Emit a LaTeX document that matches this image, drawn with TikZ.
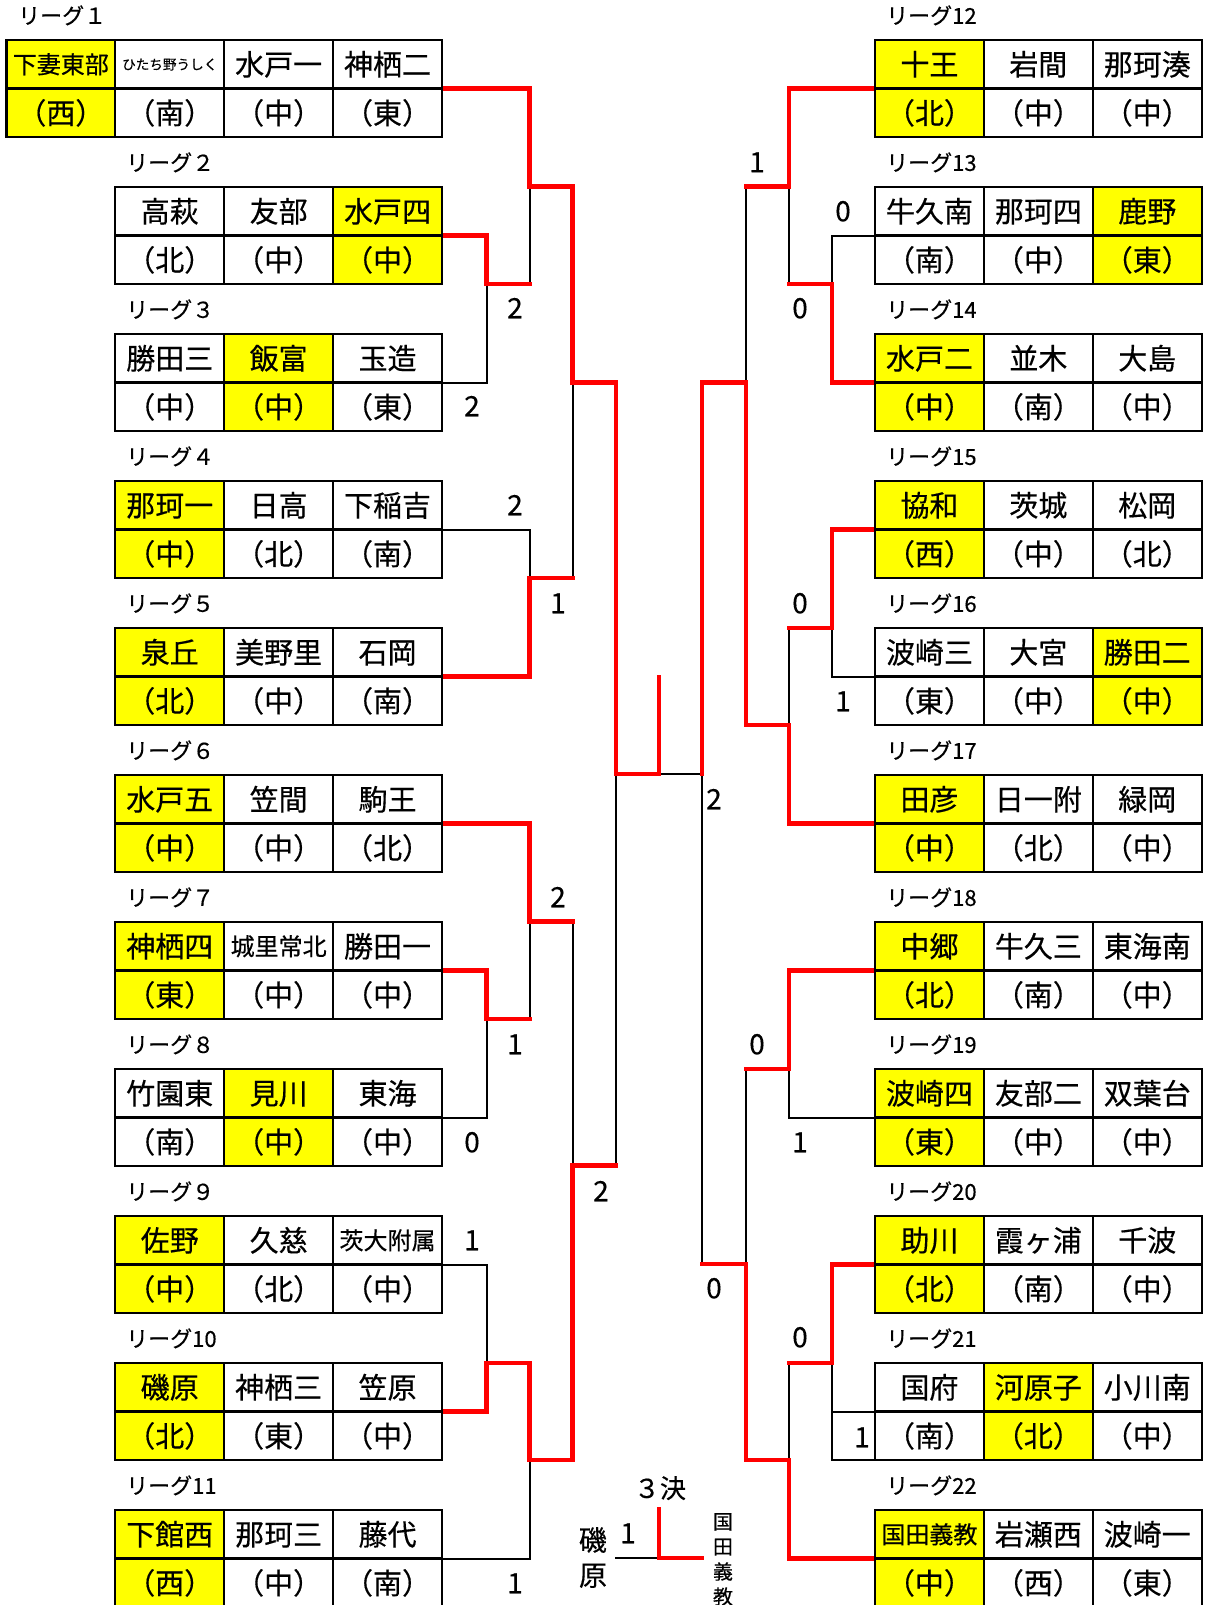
\documentclass[tikz,border=0pt]{standalone}
\usepackage{fontspec}
\setmainfont{Noto Sans CJK JP}[FakeBold=0.4]
\definecolor{ylw}{HTML}{FFFF00}
\definecolor{rd}{HTML}{FF0000}
\newcommand\smA[1]{\raisebox{1.9pt}{\fontsize{24pt}{24pt}\selectfont #1}}
\newcommand\smB[1]{\raisebox{5.8pt}{\fontsize{13.6pt}{13.6pt}\selectfont #1}}
\newcommand\league[5]{%
  \foreach \f/\t [count=\i from 0] in {#4}{
    \node[cellst, fill=\f] (#1t\i) at ({#2+(\i+0.5)*108.9},{#3+24.3}) {\t};}
  \foreach \f/\t [count=\i from 0] in {#5}{
    \node[cellst, fill=\f] (#1b\i) at ({#2+(\i+0.5)*108.9},{#3+72.9}) {\t};}
}
\begin{document}
\begin{tikzpicture}[x=1pt,y=-1pt,
  cellst/.style={draw=black, line width=2.3pt, minimum width=108.9pt, minimum height=48.6pt,
    inner sep=0pt, outer sep=0pt, font=\fontsize{29pt}{29pt}\selectfont,
    text height=25.5pt, text depth=3.5pt},
  lblst/.style={anchor=west, inner sep=0pt, font=\fontsize{22pt}{22pt}\selectfont,
    text height=19.4pt, text depth=2.6pt},
  scst/.style={inner sep=0pt, font=\fontsize{28pt}{28pt}\selectfont,
    text height=20.5pt, text depth=0pt},
  blk/.style={draw=black, line width=2pt},
  redl/.style={draw=rd, line width=4.3pt, line cap=rect, line join=miter}]
\useasboundingbox (0,0) rectangle (1205,1605);
\fill[white] (0,0) rectangle (1205,1605);
% bracket x positions
\def\Aa{486.5}\def\Ab{529.5}\def\Ac{572.5}\def\Ad{616}\def\Cc{659}
\def\Bd{702}\def\Bc{746}\def\Bb{789}\def\Ba{832}
% coordinates of table line ends
\coordinate (La) at (442,88.6);   \coordinate (Lb) at (442,235.6);
\coordinate (Lc) at (442,382.6);  \coordinate (Ld) at (442,529.6);
\coordinate (Le) at (442,676.6);  \coordinate (Lf) at (442,823.6);
\coordinate (Lg) at (442,970.6);  \coordinate (Lh) at (442,1117.6);
\coordinate (Li) at (442,1264.6); \coordinate (Lj) at (442,1411.6);
\coordinate (Lk) at (442,1558.6);
\coordinate (Ra) at (875,88.6);   \coordinate (Rb) at (875,235.6);
\coordinate (Rc) at (875,382.6);  \coordinate (Rd) at (875,529.6);
\coordinate (Re) at (875,676.6);  \coordinate (Rf) at (875,823.6);
\coordinate (Rg) at (875,970.6);  \coordinate (Rh) at (875,1117.6);
\coordinate (Ri) at (875,1264.6); \coordinate (Rj) at (875,1411.6);
\coordinate (Rjb) at (875,1460.2);
\coordinate (Rk) at (875,1558.6);
% junction coordinates
\coordinate (jA23) at (\Aa,284.2);  \coordinate (jB23) at (\Ab,284.2);
\coordinate (jB1) at (\Ab,186.4);   \coordinate (jC1) at (\Ac,186.4);
\coordinate (jB45) at (\Ab,578.2);  \coordinate (jC45) at (\Ac,578.2);
\coordinate (jCt) at (\Ac,382.6);   \coordinate (jDt) at (\Ad,382.6);
\coordinate (jDc) at (\Ad,774);     \coordinate (jCc) at (\Cc,774);
\coordinate (jCtop) at (\Cc,677);   \coordinate (jEc) at (\Bd,774);
\coordinate (jB6) at (\Ab,921.4);   \coordinate (jC6) at (\Ac,921.4);
\coordinate (jA78) at (\Aa,1019.2); \coordinate (jB78) at (\Ab,1019.2);
\coordinate (jA9) at (\Aa,1363);    \coordinate (jB9) at (\Ab,1363);
\coordinate (jB11) at (\Ab,1460.2); \coordinate (jC11) at (\Ac,1460.2);
\coordinate (jCb) at (\Ac,1165.5);  \coordinate (jDb) at (\Ad,1165.5);
\coordinate (kB1) at (\Bb,186.4);   \coordinate (kC1) at (\Bc,186.4);
\coordinate (kA23) at (\Ba,284.2);  \coordinate (kB23) at (\Bb,284.2);
\coordinate (kCt) at (\Bc,382.6);   \coordinate (kDt) at (\Bd,382.6);
\coordinate (kA45) at (\Ba,628);    \coordinate (kB45) at (\Bb,628);
\coordinate (kB6) at (\Bb,725);     \coordinate (kC6) at (\Bc,725);
\coordinate (kB78) at (\Bb,1069);   \coordinate (kC78) at (\Bc,1069);
\coordinate (kDb) at (\Bd,1264);    \coordinate (kCb) at (\Bc,1264);
\coordinate (kA9) at (\Ba,1363);    \coordinate (kB9) at (\Bb,1363);
\coordinate (kA10) at (\Ba,1411.6); \coordinate (kA10b) at (\Ba,1460.2);
\coordinate (kB11) at (\Bb,1460.2); \coordinate (kC11) at (\Bc,1460.2);
\coordinate (tpL) at (615,1558);    \coordinate (tpC) at (\Cc,1558);
\coordinate (tpT) at (\Cc,1509);    \coordinate (tpR) at (\Bd,1558);
% black lines
\draw[blk] (Lc) -| (jA23);
\draw[blk] (jB23) -- (jB1);
\draw[blk] (Ld) -| (jB45);
\draw[blk] (jC45) -- (jCt);
\draw[blk] (Lh) -| (jA78);
\draw[blk] (jB78) -- (jB6);
\draw[blk] (jC6) -- (jCb);
\draw[blk] (jDb) -- (jDc);
\draw[blk] (Li) -| (jA9);
\draw[blk] (Lk) -| (jB11);
\draw[blk] (jCc) -- (jEc) -- (kDb);
\draw[blk] (Rb) -| (kA23);
\draw[blk] (kB23) -- (kB1);
\draw[blk] (kC1) -- (kCt);
\draw[blk] (Re) -| (kA45);
\draw[blk] (kB45) -- (kB6);
\draw[blk] (Rh) -| (kB78);
\draw[blk] (kC78) -- (kCb);
\draw[blk] (Rj) -- (kA10);
\draw[blk] (kA9) -- (kA10b) -- (Rjb);
\draw[blk] (kB9) -- (kB11);
\draw[blk] (tpL) -- (tpC);
% red lines
\draw[redl] (La) -| (jB1) -| (jCt) -| (jDc) -| (jCtop);
\draw[redl] (Lb) -| (jA23) -- (jB23);
\draw[redl] (Le) -| (jB45) -- (jC45);
\draw[redl] (Lf) -| (jB6) -- (jC6);
\draw[redl] (Lg) -| (jA78) -- (jB78);
\draw[redl] (Lj) -| (jA9) -| (jB11) -| (jCb) -- (jDb);
\draw[redl] (Ra) -| (kB1) -- (kC1);
\draw[redl] (Rc) -| (kA23) -- (kB23);
\draw[redl] (Rf) -| (kB6) -| (kCt) -| (jEc);
\draw[redl] (Rd) -| (kA45) -- (kB45);
\draw[redl] (Rg) -| (kB78) -- (kC78);
\draw[redl] (Ri) -| (kA9) -- (kB9);
\draw[redl] (Rk) -| (kB11) -| (kCb) -- (kDb);
\draw[redl] (tpT) -- (tpC) -- (tpR);
% tables left
\league{La}{6.4}{40}{ylw/\smA{下妻東部}, white/\smB{ひたち野うしく}, white/水戸一, white/神栖二}{ylw/（西）, white/（南）, white/（中）, white/（東）}
\league{Lb}{115.3}{187}{white/高萩, white/友部, ylw/水戸四}{white/（北）, white/（中）, ylw/（中）}
\league{Lc}{115.3}{334}{white/勝田三, ylw/飯富, white/玉造}{white/（中）, ylw/（中）, white/（東）}
\league{Ld}{115.3}{481}{ylw/那珂一, white/日高, white/下稲吉}{ylw/（中）, white/（北）, white/（南）}
\league{Le}{115.3}{628}{ylw/泉丘, white/美野里, white/石岡}{ylw/（北）, white/（中）, white/（南）}
\league{Lf}{115.3}{775}{ylw/水戸五, white/笠間, white/駒王}{ylw/（中）, white/（中）, white/（北）}
\league{Lg}{115.3}{922}{ylw/神栖四, white/\smA{城里常北}, white/勝田一}{ylw/（東）, white/（中）, white/（中）}
\league{Lh}{115.3}{1069}{white/竹園東, ylw/見川, white/東海}{white/（南）, ylw/（中）, white/（中）}
\league{Li}{115.3}{1216}{ylw/佐野, white/久慈, white/\smA{茨大附属}}{ylw/（中）, white/（北）, white/（中）}
\league{Lj}{115.3}{1363}{ylw/磯原, white/神栖三, white/笠原}{ylw/（北）, white/（東）, white/（中）}
\league{Lk}{115.3}{1510}{ylw/下館西, white/那珂三, white/藤代}{ylw/（西）, white/（中）, white/（南）}
% tables right
\league{Ra}{875}{40}{ylw/十王, white/岩間, white/那珂湊}{ylw/（北）, white/（中）, white/（中）}
\league{Rb}{875}{187}{white/牛久南, white/那珂四, ylw/鹿野}{white/（南）, white/（中）, ylw/（東）}
\league{Rc}{875}{334}{ylw/水戸二, white/並木, white/大島}{ylw/（中）, white/（南）, white/（中）}
\league{Rd}{875}{481}{ylw/協和, white/茨城, white/松岡}{ylw/（西）, white/（中）, white/（北）}
\league{Re}{875}{628}{white/波崎三, white/大宮, ylw/勝田二}{white/（東）, white/（中）, ylw/（中）}
\league{Rf}{875}{775}{ylw/田彦, white/日一附, white/緑岡}{ylw/（中）, white/（北）, white/（中）}
\league{Rg}{875}{922}{ylw/中郷, white/牛久三, white/東海南}{ylw/（北）, white/（南）, white/（中）}
\league{Rh}{875}{1069}{ylw/波崎四, white/友部二, white/双葉台}{ylw/（東）, white/（中）, white/（中）}
\league{Ri}{875}{1216}{ylw/助川, white/霞ヶ浦, white/千波}{ylw/（北）, white/（南）, white/（中）}
\league{Rj}{875}{1363}{white/国府, ylw/河原子, white/小川南}{white/（南）, ylw/（北）, white/（中）}
\league{Rk}{875}{1510}{ylw/\smA{国田義教}, white/岩瀬西, white/波崎一}{ylw/（中）, white/（西）, white/（東）}
% league labels
\node[lblst] (n1) at (18,15.5) {リーグ１};
\node[lblst] (n2) at (126,162.5) {リーグ２};
\node[lblst] (n3) at (126,309.5) {リーグ３};
\node[lblst] (n4) at (126,456.5) {リーグ４};
\node[lblst] (n5) at (126,603.5) {リーグ５};
\node[lblst] (n6) at (126,750.5) {リーグ６};
\node[lblst] (n7) at (126,897.5) {リーグ７};
\node[lblst] (n8) at (126,1044.5) {リーグ８};
\node[lblst] (n9) at (126,1191.5) {リーグ９};
\node[lblst] (n10) at (126,1338.5) {リーグ10};
\node[lblst] (n11) at (126,1485.5) {リーグ11};
\node[lblst] (n12) at (886,15.5) {リーグ12};
\node[lblst] (n13) at (886,162.5) {リーグ13};
\node[lblst] (n14) at (886,309.5) {リーグ14};
\node[lblst] (n15) at (886,456.5) {リーグ15};
\node[lblst] (n16) at (886,603.5) {リーグ16};
\node[lblst] (n17) at (886,750.5) {リーグ17};
\node[lblst] (n18) at (886,897.5) {リーグ18};
\node[lblst] (n19) at (886,1044.5) {リーグ19};
\node[lblst] (n20) at (886,1191.5) {リーグ20};
\node[lblst] (n21) at (886,1338.5) {リーグ21};
\node[lblst] (n22) at (886,1485.5) {リーグ22};
% scores
\node[scst] (s1) at (515,308) {2};
\node[scst] (s2) at (472,406) {2};
\node[scst] (s3) at (515,505) {2};
\node[scst] (s4) at (558,603) {1};
\node[scst] (s5) at (558,897) {2};
\node[scst] (s6) at (515,1044) {1};
\node[scst] (s7) at (472,1142) {0};
\node[scst] (s8) at (601,1191) {2};
\node[scst] (s9) at (472,1240) {1};
\node[scst] (s10) at (515,1583) {1};
\node[scst] (s11) at (714,799) {2};
\node[scst] (s12) at (714,1288) {0};
\node[scst] (s13) at (757,162) {1};
\node[scst] (s14) at (843,211) {0};
\node[scst] (s15) at (800,308) {0};
\node[scst] (s16) at (800,603) {0};
\node[scst] (s17) at (843,701) {1};
\node[scst] (s18) at (757,1044) {0};
\node[scst] (s19) at (800,1142) {1};
\node[scst] (s20) at (800,1337) {0};
\node[scst] (s21) at (862,1437) {1};
% third place
\node[inner sep=0pt, font=\fontsize{26pt}{26pt}\selectfont, text height=22.9pt, text depth=3.1pt] (tp) at (660,1488) {３決};
\node[scst] (s22) at (628,1533) {1};
\node[inner sep=0pt, align=center, font=\fontsize{28pt}{35pt}\selectfont] (iso) at (593,1557.5) {磯\\原};
\node[inner sep=0pt, align=center, font=\fontsize{20pt}{25pt}\selectfont] (kuni) at (723,1559.5) {国\\田\\義\\教};
\end{tikzpicture}
\end{document}
